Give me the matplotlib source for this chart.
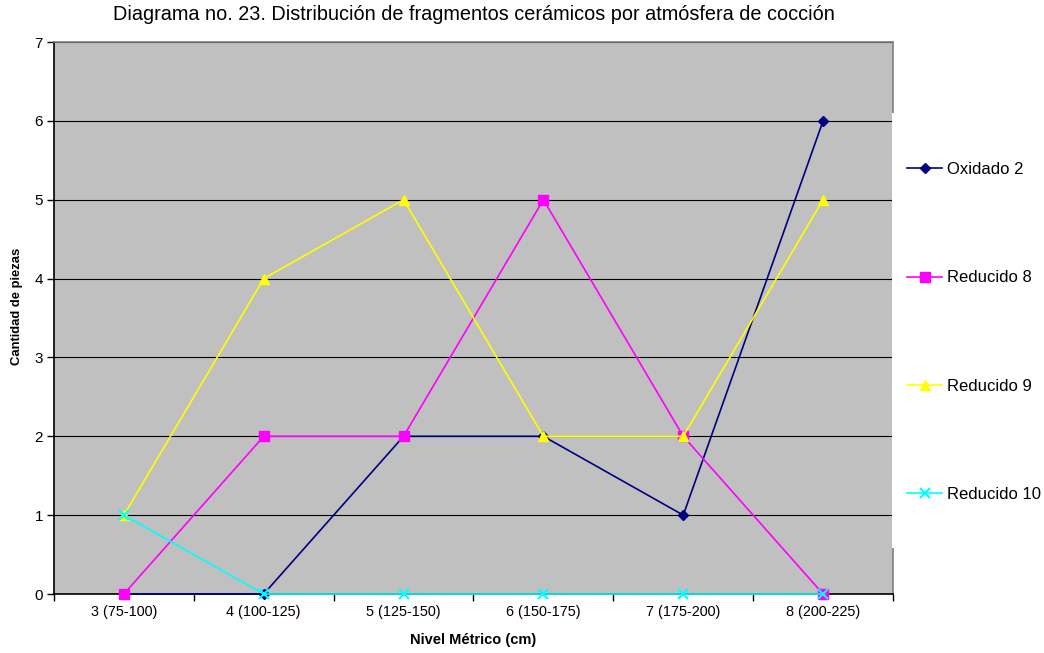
import numpy as np
import matplotlib
matplotlib.use("Agg")
import matplotlib.pyplot as plt
from matplotlib.patches import Rectangle

plt.rcParams['font.family'] = ['Liberation Sans', 'DejaVu Sans']

# Data
niveles = ['3 (75-100)', '4 (100-125)', '5 (125-150)', '6 (150-175)',
           '7 (175-200)', '8 (200-225)']
oxidado_2 = [0, 0, 2, 2, 1, 6]
reducido_8 = [0, 2, 2, 5, 2, 0]
reducido_9 = [1, 4, 5, 2, 2, 5]
reducido_10 = [1, 0, 0, 0, 0, 0]

series = [
    ('Oxidado 2', oxidado_2, '#000080', 'D', 5.5),
    ('Reducido 8', reducido_8, '#FF00FF', 's', 7),
    ('Reducido 9', reducido_9, '#FFFF00', '^', 7.5),
    ('Reducido 10', reducido_10, '#00FFFF', 'x', 7),
]

W, H = 1044, 653
fig = plt.figure(figsize=(W / 100, H / 100), dpi=100)
ax = fig.add_axes([54 / W, 1 - 594 / H, (893 - 54) / W, (594 - 42) / H])
ax.set_facecolor('#C0C0C0')

x = np.arange(len(niveles))
for name, vals, col, mk, ms in series:
    ax.plot(x, vals, color=col, marker=mk, markersize=ms, linewidth=1.2,
            markeredgecolor=col, markeredgewidth=1.5 if mk == 'x' else 1,
            label=name, clip_on=False, zorder=3)

ax.set_xlim(-0.5, len(niveles) - 0.5)
ax.set_ylim(0, 7)
ax.set_yticks(range(0, 8))
ax.yaxis.grid(True, color='black', linewidth=0.8)
ax.set_axisbelow(True)

# ticks sit between categories, labels at the category centres
ax.set_xticks(np.arange(-0.5, len(niveles), 1.0))
ax.set_xticklabels([])
ax.set_xticks(x, minor=True)
ax.set_xticklabels(niveles, minor=True, fontsize=10.4)
ax.tick_params(axis='x', which='minor', length=0, pad=8)
ax.tick_params(axis='x', which='major', length=5, direction='out', width=1)
ax.tick_params(axis='y', length=5, direction='out', width=1, labelsize=11, pad=3)

for s in ['top', 'right']:
    ax.spines[s].set_color('#808080')
    ax.spines[s].set_linewidth(1.2)
for s in ['left', 'bottom']:
    ax.spines[s].set_color('black')
    ax.spines[s].set_linewidth(1.2)

ax.set_ylabel('Cantidad de piezas', fontsize=9.4, fontweight='bold')
ax.yaxis.set_label_coords(-(54 - 17) / (893 - 54), (594 - 306) / (594 - 42))
ax.set_xlabel('Nivel Métrico (cm)', fontsize=10.5, fontweight='bold')
ax.xaxis.set_label_coords(0.5, -(640 - 594) / (594 - 42))
ax.xaxis.label.set_va('center')
ax.yaxis.label.set_va('center')
fig.text(473.5 / W, 1 - 14 / H,
         'Diagrama no. 23. Distribución de fragmentos cerámicos por atmósfera de cocción',
         ha='center', va='center', fontsize=14.3)

# white legend area overlapping the plot edge
fig.patches.append(Rectangle((892 / W, 1 - 548 / H), (W - 892) / W, (548 - 113) / H,
                             transform=fig.transFigure, facecolor='white',
                             edgecolor='none', zorder=1))

leg = fig.legend(loc='upper left', bbox_to_anchor=(907 / W, 1 - 162 / H),
                 frameon=False, fontsize=12, labelspacing=5.6,
                 handlelength=2.1, handletextpad=0.3, borderpad=0,
                 borderaxespad=0)
leg.set_zorder(2)

fig.savefig('out.png', dpi=100)
